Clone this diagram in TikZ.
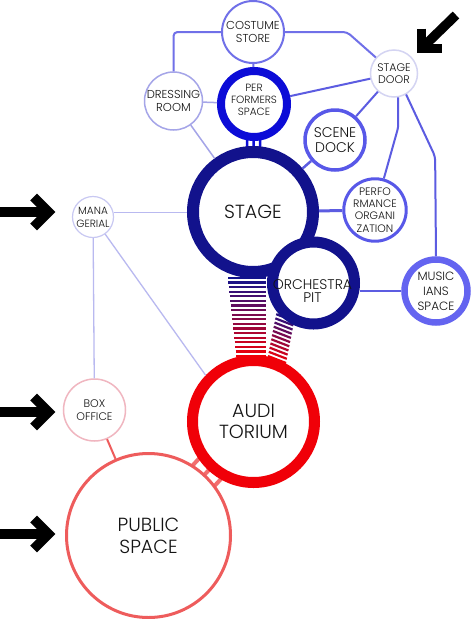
\documentclass[tikz,border=0pt]{standalone}
\usepackage{fontspec}
\setmainfont{Poppins Light}
\usetikzlibrary{calc,backgrounds}
\definecolor{navyc}{RGB}{18,18,140}
\definecolor{perfc}{RGB}{12,12,215}
\definecolor{midc}{RGB}{88,88,232}
\definecolor{musc}{RGB}{100,100,240}
\definecolor{costc}{RGB}{112,112,232}
\definecolor{edgec}{RGB}{92,92,225}
\definecolor{dressc}{RGB}{165,165,232}
\definecolor{doorc}{RGB}{212,212,242}
\definecolor{manc}{RGB}{200,200,242}
\definecolor{manedge}{RGB}{185,185,240}
\definecolor{boxc}{RGB}{240,182,192}
\definecolor{redc}{RGB}{240,0,8}
\definecolor{pubc}{RGB}{238,92,92}
\definecolor{stubc}{RGB}{242,110,110}
\definecolor{txtc}{RGB}{20,20,20}
\begin{document}
\begin{tikzpicture}[x=1pt,y=-1pt,
  ring/.style={circle, draw, fill=white, inner sep=0pt, align=center, text=txtc},
  lbl/.style={inner sep=0pt, align=center, text=txtc},
  fs/.style 2 args={font=\fontsize{#1}{#2}\selectfont},
  blk/.style={line width=9.5pt, black},
  chev/.style={line width=9.5pt, black, line join=miter, miter limit=10},
  medge/.style={edgec, line width=2pt},
]
\useasboundingbox (0,0) rectangle (474,619);

% ---- circles ----
\node[ring, draw=costc, line width=2pt, minimum size=62pt, fs={11.5}{12.7}] (costume) at (253,32) {COSTUME\\STORE};
\node[ring, draw=doorc, line width=1.5pt, minimum size=47pt, fs={11}{12.3}] (stagedoor) at (394,73.5) {STAGE\\DOOR};
\node[ring, draw=dressc, line width=1.5pt, minimum size=58pt, fs={11.5}{12.3}] (dressing) at (173.5,101) {DRESSING\\ROOM};
\node[ring, draw=perfc, line width=8pt, minimum size=66pt] (performers) at (254,104) {};
\node[lbl, fs={10.5}{12.2}] (performerstext) at (254,100) {PER\\FORMERS\\SPACE};
\node[ring, draw=midc, line width=3.5pt, minimum size=60pt, fs={14}{15}] (scenedock) at (335,140) {SCENE\\DOCK};
\node[ring, draw=navyc, line width=12pt, minimum size=120pt, fs={19}{21.7}] (stage) at (253,212) {STAGE};
\node[ring, draw=midc, line width=3pt, minimum size=61pt, fs={10.8}{12.4}] (perforg) at (375,210) {PERFO\\RMANCE\\ORGANI\\ZATION};
\node[ring, draw=navyc, line width=11pt, minimum size=82pt] (pit) at (313.5,283) {};
\node[lbl, fs={14}{13.3}] (pittext) at (312.5,291) {ORCHESTRA\\PIT};
\node[ring, draw=musc, line width=6.5pt, minimum size=63pt, fs={12}{15}] (musicians) at (436,291) {MUSIC\\IANS\\SPACE};
\node[ring, draw=manc, line width=1.2pt, minimum size=41pt, fs={10.5}{13}] (managerial) at (93,217) {MANA\\GERIAL};
\node[ring, draw=boxc, line width=1.5pt, minimum size=62pt, fs={11}{12.7}] (boxoffice) at (94.5,410) {BOX\\OFFICE};
\node[ring, draw=redc, line width=11pt, minimum size=122pt, fs={19}{21.7}] (audi) at (253.5,421.5) {AUDI\\TORIUM};
\node[ring, draw=pubc, line width=3pt, minimum size=164pt, fs={19}{21.7}] (public) at (148.5,535.5) {PUBLIC\\SPACE};

% ---- connectors ----
\draw[costc, line width=2pt, rounded corners=4pt] (costume.west) -| (dressing.north);
\draw[costc, line width=2pt, rounded corners=4pt] (costume.east) -- ++(62,0) -- (stagedoor);
\draw[costc, line width=2pt] (costume) -- (performers);
\draw[dressc, line width=1.5pt] (dressing) -- (performers);
\draw[dressc, line width=1.5pt] (dressing) -- (stage);
\draw[medge] (performers) -- (stagedoor);
\draw[medge] (stagedoor) -- (scenedock);
\draw[medge, rounded corners=3pt] (stagedoor.-80) -- ++(0,30) -- (perforg);
\draw[medge, rounded corners=4pt] (stagedoor.-60) -- ++(29,62) -- (musicians.north);
\draw[edgec, line width=2.5pt] (scenedock) -- (stage);
\draw[edgec, line width=3pt] (stage) -- (perforg);
\draw[edgec, line width=2.5pt] (musicians.west) -- (musicians.west -| pit.east);
\draw[manedge, line width=1.3pt] (managerial.12) -- (managerial.12 -| stage.west);
\draw[manedge, line width=1.3pt] (managerial) -- (boxoffice);
\draw[manedge, line width=1.3pt] (managerial) -- (audi.136);
\draw[pubc, line width=2pt] (boxoffice) -- (public);

% ---- arrows ----
\coordinate (a1s) at (0,212);   \coordinate (a1t) at (48.6,212);
\coordinate (a2s) at (0,412);   \coordinate (a2t) at (48.6,412);
\coordinate (a3s) at (0,534);   \coordinate (a3t) at (48.6,534);
\coordinate (a4s) at (456,15);  \coordinate (a4t) at (421.5,48.5);
\foreach \s/\t in {a1s/a1t,a2s/a2t,a3s/a3t}{
  \draw[blk] (\s) -- (\t);
  \draw[chev] ($(\t)+(-15,-15)$) -- (\t) -- ($(\t)+(-15,15)$);
}
\draw[blk] (a4s) -- (a4t);
\draw[chev] ($(a4t)+(0,-20)$) -- (a4t) -- ($(a4t)+(20,0)$);

% ---- background: bands and bridges ----
\begin{scope}[on background layer]
  \fill[white] (0,0) rectangle (474,619);
  \foreach \i in {0,...,17}{
    \pgfmathsetmacro\tt{\i/17}
    \pgfmathtruncatemacro\pp{100*\tt}
    \draw[line width=2.2pt, color=redc!\pp!navyc] (228+8*\tt, 278+78*\tt) -- (266, 278+78*\tt);
  }
  \foreach \i in {0,...,11}{
    \pgfmathsetmacro\tt{\i/11}
    \pgfmathtruncatemacro\pp{100*\tt}
    \draw[line width=2.2pt, color=redc!\pp!navyc] (277-9*\tt, 310+46*\tt) -- (295-9*\tt, 317+46*\tt);
  }
  \foreach \d in {-6.5,0,6.5}{
    \draw[perfc, line width=2.5pt] ([xshift=\d pt]performers.center) -- ([xshift=\d pt]stage.center);
  }
  \foreach \d in {-15,0,15}{
    \draw[stubc, line width=4pt] ($(audi.center)+(0.735*\d,0.677*\d)$) -- ($(public.center)+(0.735*\d,0.677*\d)$);
  }
\end{scope}
\end{tikzpicture}
\end{document}
